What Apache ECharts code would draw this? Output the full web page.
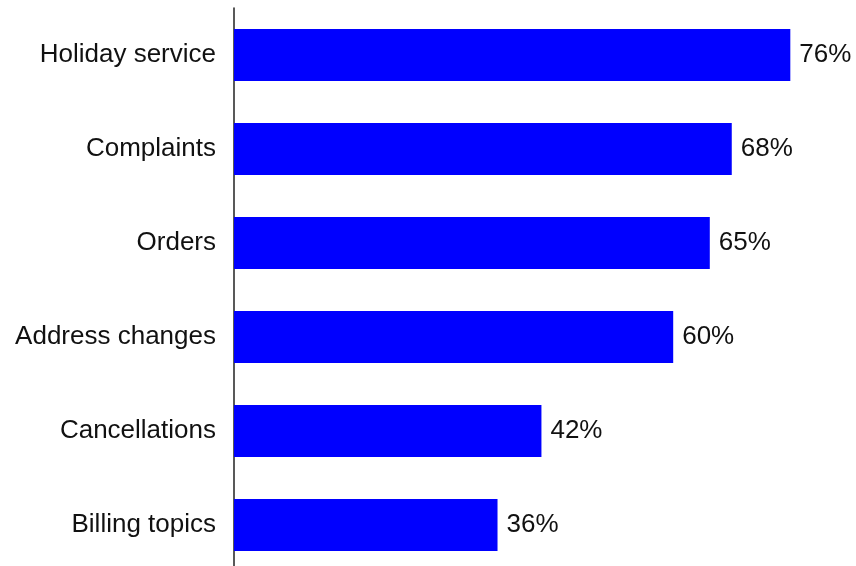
<!DOCTYPE html>
<html>
<head>
<meta charset="utf-8">
<script src="https://cdn.jsdelivr.net/npm/echarts@6/dist/echarts.min.js"></script>
<style>
  html, body { margin: 0; padding: 0; background: #fff; }
  #chart { width: 856px; height: 566px; }
</style>
</head>
<body>
<div id="chart"></div>
<script>
// categories, bottom to top as ECharts draws them
const topics = ["Billing topics", "Cancellations", "Address changes", "Orders", "Complaints", "Holiday service"];
const shares = [36, 42, 60, 65, 68, 76];

const chart = echarts.init(document.getElementById("chart"));

chart.setOption({
  animation: false,
  grid: {
    left: 234,
    top: 8,
    width: 585.6,
    height: 564,
    outerBoundsMode: "none"
  },
  xAxis: {
    type: "value",
    min: 0,
    max: 80,
    show: false
  },
  yAxis: {
    type: "category",
    data: topics,
    axisLine: { show: true, lineStyle: { color: "#222", width: 1.5 } },
    axisTick: { show: false },
    axisLabel: {
      color: "#111",
      fontSize: 26,
      fontFamily: "Liberation Sans, Arial, sans-serif",
      margin: 18
    },
    splitLine: { show: false }
  },
  series: [
    {
      type: "bar",
      data: shares,
      barWidth: 52,
      itemStyle: { color: "#0000ff" },
      label: {
        show: true,
        position: "right",
        distance: 9,
        formatter: "{c}%",
        color: "#111",
        fontSize: 26,
        fontFamily: "Liberation Sans, Arial, sans-serif"
      }
    }
  ]
});
</script>
</body>
</html>
